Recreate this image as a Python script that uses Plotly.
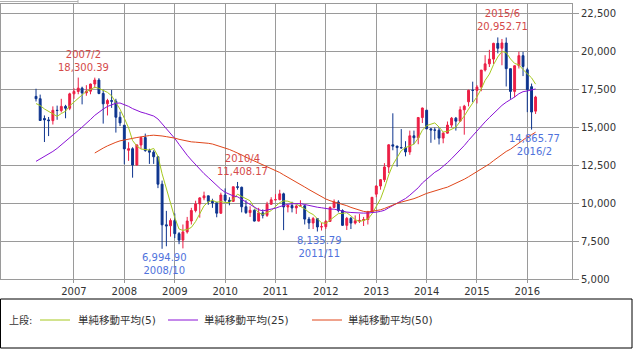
import pandas as pd
import plotly.graph_objects as go

# ---- data: Nikkei 225 monthly, 2006/4 .. 2016/3 ----
start_month = "2006-04-01"

open_ = [17060, 16906, 15600, 15505, 15457, 16141, 16128, 16399, 16274,
         17226, 17383, 17604, 17288, 17400, 17876, 18138, 17249, 16569, 16786, 16738, 15681,
         15155, 13500, 13603, 12526, 13850, 14339, 13481, 13377, 13073, 11260, 8577, 8512,
         8860, 7994, 7568, 8110, 8828, 9523, 9958, 10357, 10493, 10133, 10035, 9346,
         10546, 10198, 10126, 11090, 11057, 9769, 9383, 9537, 8824, 9369, 9202, 9937,
         10229, 10238, 10624, 9755, 9850, 9694, 9816, 9833, 8955, 8700, 8988, 8435,
         8455, 8803, 9723, 10084, 9521, 8543, 9007, 8695, 8840, 8870, 8928, 9446,
         10604, 11139, 11559, 12398, 13861, 13775, 13677, 13668, 13389, 14456, 14328, 15662,
         16147, 14915, 14841, 14828, 14304, 14632, 15162, 15621, 15425, 16174, 16700, 17460,
         17451, 17674, 18798, 19207, 19520, 20563, 20236, 20585, 18890, 17388, 19083, 19747,
         18818, 17700, 16085]
high = [17563, 17177, 15800, 15700, 16400, 16450, 16900, 16500, 17300,
        17600, 18300.39, 17700, 17800, 17900, 18297, 18262, 17500, 16900, 17488, 16900, 16044,
        15156, 14031, 13700, 13894, 14400, 14601, 13600, 13500, 13100, 11500, 9500, 9000,
        9325, 8100, 8600, 9100, 9700, 10170, 10400, 10767, 10500, 10300, 10100, 10700,
        10982, 10400, 11100, 11408.17, 11100, 10200, 9800, 9600, 9700, 9600, 10100, 10400,
        10600, 10891, 10700, 9900, 10100, 9900, 10200, 9900, 9100, 9100, 9000, 8700,
        8900, 9800, 10255, 10200, 9600, 9100, 9100, 9200, 9300, 9100, 9500, 10400,
        11200, 11600, 12650, 13900, 15942, 13800, 14900, 14100, 14800, 14800, 15700, 16320,
        16164, 14950, 15000, 15000, 14700, 15400, 15700, 15700, 16400, 16500, 17500, 18030,
        17800, 18800, 19778, 20133, 20600, 20952.71, 20850, 20946, 18900, 19100, 20012, 20000,
        18951, 17905, 17100]
low = [16722, 15465, 14045, 14437, 15200, 15513, 16000, 15615, 16150,
       16900, 17200, 16532, 17100, 17200, 17600, 17200, 15262, 15800, 16300, 14669, 15100,
       12573, 12800, 11691, 12500, 13600, 13400, 12600, 12600, 11000, 6994.90, 7162, 7800,
       7700, 7300, 7021, 8000, 8600, 9400, 9050, 10200, 9900, 9700, 9076, 9300,
       10100, 9867, 10100, 10900, 9400, 9300, 9100, 8800, 8800, 9000, 9100, 9900,
       10200, 10200, 8227, 9400, 9400, 9300, 9800, 8600, 8300, 8300, 8135.79, 8200,
       8300, 8800, 9700, 9400, 8500, 8238, 8300, 8600, 8700, 8500, 8600, 9400,
       10400, 10900, 11400, 12000, 13500, 12415, 13600, 13100, 13200, 13900, 13900, 15300,
       14900, 13995, 14200, 13885, 13964, 14600, 15000, 14800, 15400, 14529, 16400, 16672,
       16592, 17400, 18700, 19000, 19200, 19900, 19115, 17714, 16901, 17000, 18900, 18400,
       16017, 14865.77, 15900]
close = [16906, 15467, 15505, 15457, 16141, 16128, 16399, 16274, 17226,
         17383, 17604, 17288, 17400, 17876, 18138, 17249, 16569, 16786, 16738, 15681, 15308,
         13592, 13603, 12526, 13850, 14339, 13481, 13377, 13073, 11260, 8577, 8512, 8860,
         7994, 7568, 8110, 8828, 9523, 9958, 10357, 10493, 10133, 10035, 9346, 10546,
         10198, 10126, 11090, 11057, 9769, 9383, 9537, 8824, 9369, 9202, 9937, 10229,
         10238, 10624, 9755, 9850, 9694, 9816, 9833, 8955, 8700, 8988, 8435, 8455,
         8803, 9723, 10084, 9521, 8543, 9007, 8695, 8840, 8870, 8928, 9446, 10395,
         11139, 11559, 12398, 13861, 13775, 13677, 13668, 13389, 14456, 14328, 15662, 16291,
         14915, 14841, 14828, 14304, 14632, 15162, 15621, 15425, 16174, 16414, 17460, 17451,
         17674, 18798, 19207, 19520, 20563, 20236, 20585, 18890, 17388, 19083, 19747, 19034,
         17518, 16027, 17014]

ma5 = [16586, 16458, 16229, 16079, 15895, 15740, 15926, 16080, 16434,
       16682, 16977, 17155, 17380, 17510, 17661, 17590, 17446, 17324, 17096, 16605, 16216,
       15621, 14984, 14142, 13776, 13582, 13560, 13515, 13624, 13106, 11954, 10960, 10056,
       9041, 8302, 8209, 8272, 8405, 8797, 9355, 9832, 10093, 10195, 10073, 10111,
       10052, 10050, 10261, 10603, 10448, 10285, 10167, 9714, 9376, 9263, 9374, 9512,
       9795, 10046, 10157, 10139, 10032, 9948, 9790, 9630, 9400, 9258, 8982, 8707,
       8676, 8881, 9100, 9317, 9335, 9376, 9170, 8921, 8791, 8868, 8956, 9296,
       9756, 10293, 10987, 11870, 12546, 13054, 13476, 13674, 13793, 13904, 14301, 14825,
       15130, 15207, 15307, 15036, 14704, 14753, 14909, 15029, 15403, 15759, 16219, 16585,
       17035, 17559, 18118, 18530, 19152, 19665, 20022, 19959, 19532, 19236, 19139, 18828,
       18554, 18282, 17868]
ma25 = [12769, 12917, 13088, 13231, 13424, 13626, 13849, 14069, 14322,
        14558, 14807, 15028, 15258, 15532, 15807, 16033, 16220, 16395, 16522, 16605, 16622,
        16521, 16399, 16252, 16124, 16021, 15942, 15857, 15761, 15566, 15264, 14948, 14652,
        14283, 13890, 13510, 13172, 12857, 12540, 12229, 11959, 11701, 11431, 11135, 10930,
        10726, 10587, 10486, 10428, 10264, 10066, 9908, 9726, 9578, 9496, 9550, 9619,
        9674, 9779, 9867, 9936, 9971, 9983, 9978, 9922, 9850, 9804, 9740, 9704,
        9635, 9616, 9614, 9551, 9451, 9420, 9393, 9365, 9367, 9349, 9359, 9377,
        9413, 9466, 9537, 9702, 9859, 10018, 10172, 10314, 10534, 10759, 11026, 11341,
        11599, 11840, 12045, 12213, 12418, 12683, 12947, 13216, 13510, 13812, 14153, 14473,
        14764, 15071, 15376, 15661, 15929, 16188, 16464, 16673, 16833, 17018, 17235, 17370,
        17419, 17463, 17550]
ma50 = [None, None, None, None, None, None, None, None, None,
        None, None, None, None, None, 13320, 13497, 13646, 13791, 13919, 14028, 14123,
        14193, 14251, 14286, 14342, 14395, 14429, 14472, 14496, 14495, 14445, 14399, 14360,
        14302, 14224, 14158, 14100, 14057, 14036, 14018, 13996, 13961, 13913, 13828, 13767,
        13674, 13554, 13443, 13340, 13194, 13044, 12925, 12791, 12670, 12531, 12407, 12284,
        12163, 12031, 11878, 11723, 11571, 11420, 11259, 11075, 10904, 10753, 10586, 10420,
        10282, 10171, 10100, 10019, 9939, 9842, 9729, 9637, 9546, 9464, 9427, 9464,
        9516, 9570, 9658, 9784, 9897, 9994, 10077, 10146, 10228, 10305, 10415, 10540,
        10652, 10738, 10830, 10914, 10985, 11067, 11184, 11305, 11437, 11589, 11751, 11916,
        12071, 12242, 12421, 12599, 12815, 13023, 13241, 13422, 13574, 13776, 13997, 14198,
        14380, 14531, 14695]

# marked highs / lows: (month, value, label_date)
highs_marked = [("2007-02-01", 18300.39, "2007/2"), ("2010-04-01", 11408.17, "2010/4"),
                ("2015-06-01", 20952.71, "2015/6")]
lows_marked = [("2008-10-01", 6994.90, "2008/10"), ("2011-11-01", 8135.79, "2011/11"),
               ("2016-02-01", 14865.77, "2016/2")]

x_ticks = ["2007-01-01", "2008-01-01", "2009-01-01", "2010-01-01", "2011-01-01",
           "2012-01-01", "2013-01-01", "2014-01-01", "2015-01-01", "2016-01-01"]
x_labels = ["2007", "2008", "2009", "2010", "2011", "2012", "2013", "2014", "2015", "2016"]
y_ticks = [5000, 7500, 10000, 12500, 15000, 17500, 20000, 22500]
ma_names = ["単純移動平均(5)", "単純移動平均(25)", "単純移動平均(50)"]
ma_colors = ["#a6c81e", "#8a12d6", "#e0461a"]

months = pd.date_range(start_month, periods=len(close), freq="MS")

FONT = "DejaVu Sans, Noto Sans CJK JP, sans-serif"
W, H = 638, 354
ML, MR, MT, MB = 1, 66, 4, 75
PW, PH = W - ML - MR, H - MT - MB

def px(x):
    return (x - ML) / PW

def py(y):
    return (H - MB - y) / PH

fig = go.Figure()
fig.add_trace(go.Candlestick(
    x=months, open=open_, high=high, low=low, close=close,
    increasing=dict(fillcolor="#ec1f45", line=dict(color="#ec1f45", width=1)),
    decreasing=dict(fillcolor="#0d348e", line=dict(color="#0d348e", width=1)),
    whiskerwidth=0, showlegend=False, hoverinfo="skip"))

for vals, col in zip([ma5, ma25, ma50], ma_colors):
    fig.add_trace(go.Scatter(x=months, y=vals, mode="lines",
                             line=dict(color=col, width=1), showlegend=False,
                             hoverinfo="skip"))

ann = []
for d, v, lab in highs_marked:
    ann.append(dict(x=d, y=v, xref="x", yref="y", text=f"{lab}<br>{v:,.2f}",
                    showarrow=False, yanchor="bottom", xanchor="center",
                    xshift=5, yshift=3, font=dict(family=FONT, size=10, color="#d44a4a")))
for d, v, lab in lows_marked:
    ann.append(dict(x=d, y=v, xref="x", yref="y", text=f"{v:,.2f}<br>{lab}",
                    showarrow=False, yanchor="top", xanchor="center",
                    xshift=2.5, yshift=-1, font=dict(family=FONT, size=10, color="#4f72dc")))

# legend box
shapes = [
    dict(type="rect", xref="paper", yref="paper", x0=px(0.5), x1=px(632), y0=py(348), y1=py(299),
         line=dict(color="#000000", width=1), fillcolor="rgba(0,0,0,0)"),
    dict(type="line", xref="paper", yref="paper", x0=px(0), x1=px(78), y0=py(1.5), y1=py(1.5),
         line=dict(color="#b0b0b0", width=1)),
    dict(type="line", xref="paper", yref="paper", x0=px(78), x1=px(78), y0=py(0), y1=py(4),
         line=dict(color="#b0b0b0", width=1)),
]
ann.append(dict(x=px(7), y=py(320), xref="paper", yref="paper", text="上段:",
                showarrow=False, xanchor="left", yanchor="middle",
                font=dict(family=FONT, size=10, color="#333333")))
seg = [(40, 70, 76), (168, 198, 202), (312, 342, 346)]
for (a, b, t), name, col in zip(seg, ma_names, ma_colors):
    shapes.append(dict(type="line", xref="paper", yref="paper", x0=px(a), x1=px(b),
                       y0=py(320), y1=py(320), line=dict(color=col, width=1)))
    ann.append(dict(x=px(t), y=py(320), xref="paper", yref="paper", text=name,
                    showarrow=False, xanchor="left", yanchor="middle",
                    font=dict(family=FONT, size=10.5, color="#333333")))

fig.update_layout(
    width=W, height=H, margin=dict(l=ML, r=MR, t=MT, b=MB),
    paper_bgcolor="white", plot_bgcolor="white", showlegend=False,
    font=dict(family=FONT, size=10, color="#333333"),
    annotations=ann, shapes=shapes,
    xaxis=dict(type="date", range=["2005-07-21", "2016-11-20"], rangeslider=dict(visible=False),
               tickvals=x_ticks, ticktext=x_labels,
               showgrid=True, gridcolor="#9a9a9a", gridwidth=1,
               ticks="outside", ticklen=3, tickcolor="#9a9a9a",
               showline=True, mirror=True, linecolor="#9a9a9a", linewidth=1,
               zeroline=False, tickfont=dict(size=10, color="#333333")),
    yaxis=dict(side="right", range=[5000, 23160], tickvals=y_ticks, tickformat=",",
               showgrid=True, gridcolor="#9a9a9a", gridwidth=1,
               ticks="outside", ticklen=6, tickcolor="#9a9a9a",
               showline=True, mirror=True, linecolor="#9a9a9a", linewidth=1,
               zeroline=False, tickfont=dict(size=10, color="#333333")),
)

fig.write_html("out.html")
